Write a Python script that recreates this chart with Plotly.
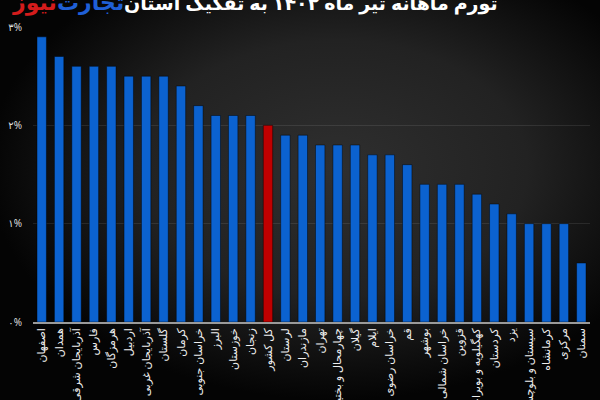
import base64
import plotly.graph_objects as go

provinces = ["اصفهان", "همدان", "آذربایجان شرقی", "فارس", "هرمزگان", "اردبیل",
             "آذربایجان غربی", "گلستان", "کرمان", "خراسان جنوبی", "البرز", "خوزستان",
             "زنجان", "کل کشور", "لرستان", "مازندران", "تهران", "چهارمحال و بختیاری",
             "گیلان", "ایلام", "خراسان رضوی", "قم", "بوشهر", "خراسان شمالی", "قزوین",
             "کهگیلویه و بویراحمد", "کردستان", "یزد", "سیستان و بلوچستان", "کرمانشاه",
             "مرکزی", "سمنان"]
inflation = [2.9, 2.7, 2.6, 2.6, 2.6, 2.5, 2.5, 2.5, 2.4, 2.2, 2.1, 2.1,
             2.1, 2.0, 1.9, 1.9, 1.8, 1.8, 1.8, 1.7, 1.7, 1.6, 1.4, 1.4, 1.4,
             1.3, 1.2, 1.1, 1.0, 1.0, 1.0, 0.6]
tick_vals = [0, 1, 2, 3]
tick_text = ["۰%", "۱%", "۲%", "۳%"]
title_text = "تورم ماهانه تیر ماه ۱۴۰۲ به تفکیک استان"
logo_blue = "تجارت"
logo_red = "نیوز"
highlight = "کل کشور"

colors = ["#c00000" if p == highlight else "#0b62d0" for p in provinces]

W, H = 600, 400
L, R, T, B = 33, 10, 27, 78
pw, ph = W - L - R, H - T - B

svg = ("<svg xmlns='http://www.w3.org/2000/svg' width='600' height='400'>"
       "<defs><radialGradient id='g' cx='0.56' cy='0.42' r='0.58'>"
       "<stop offset='0' stop-color='#2f2f2f'/>"
       "<stop offset='0.55' stop-color='#222222'/>"
       "<stop offset='1' stop-color='#040404'/>"
       "</radialGradient></defs>"
       "<rect width='600' height='400' fill='url(#g)'/></svg>")
src = "data:image/svg+xml;base64," + base64.b64encode(svg.encode()).decode()

fig = go.Figure(go.Bar(
    x=provinces, y=inflation,
    marker=dict(color=colors, line=dict(color="rgba(0,0,0,0.45)", width=1)),
))

ty = 1 + (T - 18) / ph
fig.update_layout(
    width=W, height=H,
    margin=dict(l=L, r=R, t=T, b=B, autoexpand=False),
    paper_bgcolor="#0a0a0a",
    plot_bgcolor="rgba(0,0,0,0)",
    bargap=0.46,
    showlegend=False,
    font=dict(family="Noto Sans, DejaVu Sans", color="#e6e6e6"),
    xaxis=dict(tickangle=-90, tickfont=dict(size=11, color="#eeeeee"),
               showgrid=False, showline=True, linecolor="#9a9a9a", linewidth=1.5,
               ticks="", automargin=False, range=[-0.5, len(provinces) - 0.5]),
    yaxis=dict(range=[0, 3], tickvals=tick_vals, ticktext=tick_text,
               tickfont=dict(size=10, color="#dddddd"), automargin=False,
               showgrid=True, gridcolor="rgba(255,255,255,0.09)", gridwidth=1,
               zeroline=False, ticks="", ticklabelstandoff=10),
    images=[dict(source=src, xref="paper", yref="paper",
                 x=-L / pw, y=1 + T / ph, sizex=W / pw, sizey=H / ph,
                 sizing="stretch", layer="below", xanchor="left", yanchor="top")],
    annotations=[
        dict(text="<b>" + title_text + "</b>", xref="paper", yref="paper",
             x=(311 - L) / pw, y=ty, xanchor="center", yanchor="bottom",
             showarrow=False, font=dict(size=19, color="#ffffff")),
        dict(text="<b>" + logo_red + "</b>", xref="paper", yref="paper",
             x=(59 - L) / pw, y=ty, xanchor="right", yanchor="bottom",
             showarrow=False, font=dict(size=22, color="#d41c1c")),
        dict(text="<b>" + logo_blue + "</b>", xref="paper", yref="paper",
             x=(55 - L) / pw, y=ty, xanchor="left", yanchor="bottom",
             showarrow=False, font=dict(size=22, color="#1f5fd6")),
    ],
)

fig.write_html("out.html", config={"displayModeBar": False},
               post_script="document.body.style.margin='0';")
